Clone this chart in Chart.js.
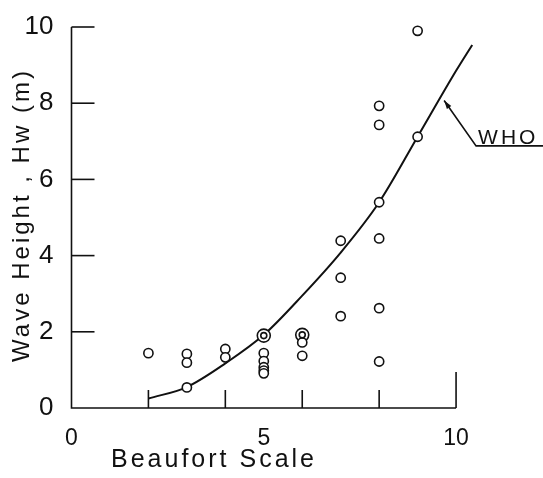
<!DOCTYPE html>
<html>
<head>
<meta charset="utf-8">
<script src="https://cdn.jsdelivr.net/npm/chart.js@4/dist/chart.umd.min.js"></script>
<style>
  html, body { margin: 0; padding: 0; background: #fff; overflow: hidden; }
  #wrap { width: 543px; height: 478px; position: relative; }
</style>
</head>
<body>
<div id="wrap"><canvas id="c"></canvas></div>
<script>
// ---- data ----
const obsBeaufort = [2, 3, 3, 3, 4, 4, 5, 5, 5, 5, 5, 6, 6, 7, 7, 7, 8, 8, 8, 8, 8, 8, 9, 9];
const obsHeight   = [1.44, 1.42, 1.19, 0.54, 1.55, 1.33, 1.44, 1.23, 1.07, 0.98, 0.91, 1.72, 1.37,
                     4.39, 3.42, 2.41, 7.93, 7.43, 5.40, 4.45, 2.62, 1.22, 9.90, 7.12];
const ringBeaufort = [5, 6];
const ringHeight   = [1.90, 1.92];
const whoBeaufort = [2, 3, 4, 5, 6, 7, 8, 9, 10, 10.42];
const whoHeight   = [0.25, 0.55, 1.17, 1.92, 2.95, 4.08, 5.40, 7.12, 8.85, 9.53];
const xTickLabels = [0, 5, 10];
const xTickMarks  = [2, 4, 6, 8, 10];
const yTickLabels = [0, 2, 4, 6, 8, 10];
const yTickMarks  = [2, 4, 6, 8, 10];
const xTitle = 'Beaufort Scale';
const yTitle = 'Wave Height , Hw (m)';
const curveLabel = 'WHO';

const pts = (xs, ys) => xs.map((x, i) => ({ x: x, y: ys[i] }));
const INK = '#111';
const FONT = '"Liberation Sans", Arial, sans-serif';

const drawPlugin = {
  id: 'handDrawn',
  beforeDatasetsDraw(chart) {
    const { ctx, scales: { x, y } } = chart;
    ctx.save();
    ctx.strokeStyle = INK;
    ctx.lineWidth = 1.6;
    ctx.lineCap = 'butt';
    const x0 = x.getPixelForValue(0), y0 = y.getPixelForValue(0);
    // axes
    ctx.beginPath();
    ctx.moveTo(x0, y.getPixelForValue(10));
    ctx.lineTo(x0, y0);
    ctx.lineTo(x.getPixelForValue(10), y0);
    ctx.stroke();
    // y tick marks (inside)
    yTickMarks.forEach(v => {
      const py = y.getPixelForValue(v);
      ctx.beginPath();
      ctx.moveTo(x0, py);
      ctx.lineTo(x0 + 23, py);
      ctx.stroke();
    });
    // x tick marks (inside)
    xTickMarks.forEach(v => {
      const px = x.getPixelForValue(v);
      ctx.beginPath();
      ctx.moveTo(px, y0);
      ctx.lineTo(px, y0 - (v === 10 ? 36 : 18));
      ctx.stroke();
    });
    ctx.restore();
  },
  afterDraw(chart) {
    const { ctx, scales: { x, y } } = chart;
    ctx.save();
    ctx.fillStyle = INK;
    ctx.strokeStyle = INK;
    // x title
    ctx.font = '25px ' + FONT;
    ctx.letterSpacing = '3px';
    ctx.textAlign = 'center';
    ctx.textBaseline = 'middle';
    ctx.fillText(xTitle, 214, 460);
    // y title
    ctx.save();
    ctx.translate(22, 215);
    ctx.rotate(-Math.PI / 2);
    ctx.font = '24px ' + FONT;
    ctx.fillText(yTitle, 0, 0);
    ctx.restore();
    // WHO annotation
    const tipX = x.getPixelForValue(9.69), tipY = y.getPixelForValue(8.07);
    const elbX = x.getPixelForValue(10.52), elbY = y.getPixelForValue(6.88);
    const endX = chart.width;
    ctx.lineWidth = 1.6;
    ctx.beginPath();
    ctx.moveTo(endX, elbY);
    ctx.lineTo(elbX, elbY);
    ctx.lineTo(tipX, tipY);
    ctx.stroke();
    const ang = Math.atan2(tipY - elbY, tipX - elbX);
    ctx.beginPath();
    ctx.moveTo(tipX, tipY);
    ctx.lineTo(tipX - 9 * Math.cos(ang - 0.3), tipY - 9 * Math.sin(ang - 0.3));
    ctx.lineTo(tipX - 9 * Math.cos(ang + 0.3), tipY - 9 * Math.sin(ang + 0.3));
    ctx.closePath();
    ctx.fill();
    ctx.font = '21px ' + FONT;
    ctx.letterSpacing = '3px';
    ctx.textAlign = 'left';
    ctx.textBaseline = 'alphabetic';
    ctx.fillText(curveLabel, elbX + 2, elbY - 2);
    ctx.restore();
  }
};

const pointStyle = {
  showLine: false,
  borderColor: INK,
  backgroundColor: '#fff',
  pointBorderWidth: 1.6,
  clip: false,
  order: 1
};

new Chart(document.getElementById('c'), {
  type: 'scatter',
  data: {
    datasets: [
      Object.assign({ label: 'Observed', data: pts(obsBeaufort, obsHeight), pointRadius: 4.6 }, pointStyle),
      Object.assign({ label: 'Observed (outer ring)', data: pts(ringBeaufort, ringHeight), pointRadius: 6.5 }, pointStyle),
      Object.assign({ label: 'Observed (inner ring)', data: pts(ringBeaufort, ringHeight), pointRadius: 3 }, pointStyle, { order: 0 }),
      {
        type: 'line',
        label: curveLabel,
        data: pts(whoBeaufort, whoHeight),
        borderColor: INK,
        borderWidth: 2,
        pointRadius: 0,
        fill: false,
        cubicInterpolationMode: 'monotone',
        clip: false,
        order: 5
      }
    ]
  },
  options: {
    responsive: true,
    maintainAspectRatio: false,
    animation: false,
    events: [],
    layout: { padding: { top: 27, right: 0, left: 0, bottom: 0 } },
    plugins: { legend: { display: false }, tooltip: { enabled: false } },
    scales: {
      x: {
        type: 'linear',
        min: 0,
        max: 12.05,
        afterFit: s => { s.height = 70; s.paddingLeft = 0; s.paddingRight = 0; },
        afterBuildTicks: s => { s.ticks = xTickLabels.map(v => ({ value: v })); },
        grid: { display: false },
        border: { display: false },
        ticks: { color: INK, font: { family: FONT, size: 23 }, padding: 9, maxRotation: 0, autoSkip: false }
      },
      y: {
        type: 'linear',
        min: 0,
        max: 10,
        afterFit: s => { s.width = 71.5; s.paddingTop = 0; s.paddingBottom = 0; },
        afterBuildTicks: s => { s.ticks = yTickLabels.map(v => ({ value: v })); },
        grid: { display: false },
        border: { display: false },
        ticks: { color: INK, font: { family: FONT, size: 26 }, padding: 10 }
      }
    }
  },
  plugins: [drawPlugin]
});
</script>
</body>
</html>
